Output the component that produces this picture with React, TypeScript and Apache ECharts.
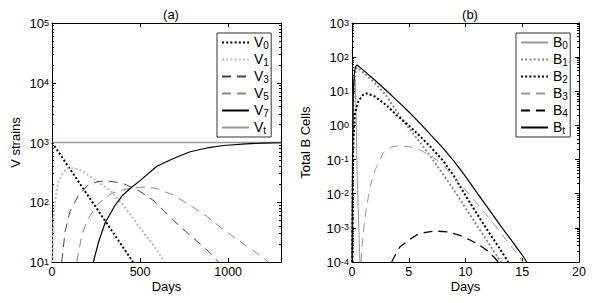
import React, { useEffect, useRef } from 'react';
import * as echarts from 'echarts';

// ---------- Panel (a): V strains vs Days ----------
const v0Days = [0, 230, 460];
const v0Vals = [1000, 100, 10];
const v1Days = [2, 8, 17, 36, 64, 93, 130, 170, 216, 270, 339, 405, 450, 500, 560, 600, 640];
const v1Vals = [10, 50, 100, 220, 320, 370, 370, 335, 270, 210, 150, 88, 60, 37, 22, 15, 10];
const v3Days = [55, 62, 74, 102, 150, 206, 260, 311, 396, 490, 580, 689, 784, 879, 945];
const v3Vals = [10, 15, 32, 70, 130, 195, 222, 228, 210, 158, 105, 50, 28, 16, 10];
const v5Days = [140, 150, 169, 206, 263, 339, 434, 528, 595, 689, 784, 879, 973, 1068, 1163, 1229];
const v5Vals = [10, 14, 28, 54, 95, 141, 170, 180, 170, 132, 89, 58, 35, 22, 14, 10];
const v7Days = [235, 263, 301, 358, 400, 443, 500, 595, 689, 784, 880, 973, 1100, 1200, 1300];
const v7Vals = [10, 21, 45, 89, 130, 170, 230, 400, 540, 700, 810, 890, 950, 975, 990];
const vtDays = [0, 1300];
const vtVals = [1000, 1000];

// ---------- Panel (b): Total B cells vs Days ----------
const b0Days = [0.01, 0.08, 0.15, 0.22, 0.3, 0.36, 0.41, 0.5, 0.6, 0.7];
const b0Vals = [1e-4, 3.2, 20, 28, 16, 2.5, 0.19, 0.0126, 0.001, 1e-4];
const b1Days = [0.03, 0.08, 0.15, 0.25, 0.35, 0.45, 1, 2, 3, 4, 5, 6, 7, 8, 9, 10, 11, 12, 13, 13.15];
const b1Vals = [1e-4, 0.1, 6.3, 25.1, 44.7, 50.1, 35.5, 17.8, 7.6, 2.4, 0.83, 0.32, 0.112, 0.038, 0.0126, 0.0038, 0.0012, 0.00037, 0.000117, 1e-4];
const b2Days = [0.03, 0.06, 0.12, 0.26, 0.56, 0.9, 1.29, 2, 3, 4, 5, 6, 7, 8, 9, 10, 11, 12, 13, 13.77];
const b2Vals = [1e-4, 0.01, 0.37, 2.3, 5.0, 7.6, 8.7, 7.1, 4.0, 1.9, 1.0, 0.48, 0.22, 0.095, 0.032, 0.0089, 0.0026, 0.00079, 0.00025, 1e-4];
const b3Days = [0.8, 0.9, 1.15, 1.59, 2.03, 2.76, 3.4, 4.08, 5, 6, 7, 8, 9, 10, 11, 12, 13, 14, 14.95, 15.05];
const b3Vals = [1e-4, 3.2e-4, 2.1e-3, 0.0162, 0.049, 0.158, 0.229, 0.257, 0.24, 0.19, 0.126, 0.071, 0.0295, 0.0126, 0.0052, 0.0021, 0.00079, 0.0003, 0.000112, 1e-4];
const b4Days = [3.5, 4, 4.23, 5, 5.7, 6.5, 7.3, 8.5, 9.5, 10.4, 11.2, 11.87, 12.5, 12.9];
const b4Vals = [1e-4, 2.1e-4, 2.8e-4, 4.4e-4, 6.2e-4, 7.4e-4, 8.1e-4, 7.6e-4, 6.0e-4, 4.4e-4, 3.2e-4, 2.2e-4, 1.4e-4, 1e-4];
const btDays = [0.01, 0.05, 0.1, 0.2, 0.3, 0.45, 1, 2, 3, 4, 5, 6, 7, 8, 9, 10, 11, 12, 13, 14, 15, 15.4];
const btVals = [1e-4, 0.1, 6.3, 31.6, 52.5, 58.9, 41.7, 21.4, 10.7, 5.25, 2.51, 1.15, 0.5, 0.22, 0.089, 0.032, 0.0107, 0.0037, 0.00126, 0.00045, 0.00016, 1e-4];

const panelTitles = ['(a)', '(b)'];
const xNames = ['Days', 'Days'];
const yNames = ['V strains', 'Total B Cells'];
const legendA = ['V0', 'V1', 'V3', 'V5', 'V7', 'Vt'];
const legendB = ['B0', 'B1', 'B2', 'B3', 'B4', 'Bt'];

const FONT = "'Liberation Sans', Arial, Helvetica, sans-serif";

const zip = (xs: number[], ys: number[]) => xs.map((x, i) => [x, ys[i]]);

function line(name: string, idx: number, xs: number[], ys: number[], color: string, width: number, type: any, z = 2) {
  return {
    type: 'line',
    name,
    xAxisIndex: idx,
    yAxisIndex: idx,
    data: zip(xs, ys),
    showSymbol: false,
    symbol: 'none',
    smooth: false,
    z,
    lineStyle: { color, width, type, cap: 'butt' },
    itemStyle: { color },
  };
}

const DOT = [2, 2.2];
const DASH = [9, 6];

const yLabel = {
  show: true,
  margin: 3,
  fontFamily: FONT,
  color: '#000',
  formatter: (v: number) => `{b|10}{s|${Math.round(Math.log10(v))}}`,
  rich: {
    b: { fontSize: 13, fontFamily: FONT, color: '#000', lineHeight: 14, verticalAlign: 'bottom', padding: [4, 0, 0, 0] },
    s: { fontSize: 9, fontFamily: FONT, color: '#000', lineHeight: 10, verticalAlign: 'top', padding: [2, 0, 0, 0] },
  },
};

function xAxes(idx: number, max: number, interval: number, name: string) {
  const base = {
    type: 'value',
    gridIndex: idx,
    min: 0,
    max,
    interval,
    splitLine: { show: false },
    axisLine: { show: true, onZero: false, lineStyle: { color: '#000', width: 1 } },
    axisTick: { show: true, inside: true, length: 4, lineStyle: { color: '#000' } },
  };
  return [
    {
      ...base,
      position: 'bottom',
      name,
      nameLocation: 'middle',
      nameGap: 18,
      nameMoveOverlap: false,
      nameTextStyle: { fontSize: 13, fontFamily: FONT, color: '#000', verticalAlign: 'top', lineHeight: 13 },
      axisLabel: {
        show: true, margin: 4, fontSize: 12.5, lineHeight: 12.5, fontFamily: FONT, color: '#000',
        showMaxLabel: max % interval === 0,
        formatter: (v: number) => String(v),
      },
    },
    { ...base, position: 'top', axisLabel: { show: false } },
  ];
}

function yAxes(idx: number, min: number, max: number, name: string, gap: number) {
  const base = {
    type: 'log',
    logBase: 10,
    gridIndex: idx,
    min,
    max,
    interval: 1,
    splitLine: { show: false },
    axisLine: { show: true, onZero: false, lineStyle: { color: '#000', width: 1 } },
    axisTick: { show: true, inside: true, length: 4, lineStyle: { color: '#000' } },
    minorTick: { show: true, splitNumber: 9, length: 2, lineStyle: { color: '#000' } },
    minorSplitLine: { show: false },
  };
  return [
    {
      ...base,
      position: 'left',
      name,
      nameLocation: 'middle',
      nameGap: gap,
      nameTextStyle: { fontSize: 13, fontFamily: FONT, color: '#000' },
      axisLabel: yLabel,
    },
    { ...base, position: 'right', axisLabel: { show: false } },
  ];
}

function legend(left: number, data: string[]) {
  return {
    orient: 'vertical',
    left,
    top: 33,
    data,
    itemWidth: 27,
    itemHeight: 14,
    itemGap: 2,
    padding: [2, 2, 2, 4],
    backgroundColor: '#fff',
    borderColor: '#333',
    borderWidth: 1,
    borderRadius: 0,
    selectedMode: false,
    itemStyle: { opacity: 0 },
    formatter: (n: string) => `{m|${n[0]}}{s|${n.slice(1)}}{h| }`,
    textStyle: {
      color: '#000',
      fontFamily: FONT,
      rich: {
        m: { fontSize: 14, fontFamily: FONT, color: '#000', lineHeight: 8, verticalAlign: 'top' },
        s: { fontSize: 10, fontFamily: FONT, color: '#000', lineHeight: 7, verticalAlign: 'bottom' },
        h: { fontSize: 1, fontFamily: FONT, color: '#000', lineHeight: 15, verticalAlign: 'middle' },
      },
    },
  };
}

export default function App() {
  const ref = useRef<HTMLDivElement>(null);
  useEffect(() => {
    if (!ref.current) return;
    const chart = echarts.init(ref.current, undefined, { renderer: 'svg' });
    const xa = xAxes(0, 1300, 500, xNames[0]);
    const xb = xAxes(1, 20, 5, xNames[1]);
    const ya = yAxes(0, 10, 1e5, yNames[0], 30);
    const yb = yAxes(1, 1e-4, 1e3, yNames[1], 40);
    chart.setOption({
      animation: false,
      backgroundColor: '#fff',
      title: [
        { text: panelTitles[0], left: 166, top: 3, textAlign: 'center', textStyle: { fontSize: 13, fontWeight: 'normal', fontFamily: FONT, color: '#000' } },
        { text: panelTitles[1], left: 465, top: 3, textAlign: 'center', textStyle: { fontSize: 13, fontWeight: 'normal', fontFamily: FONT, color: '#000' } },
      ],
      grid: [
        { left: 52, top: 23, width: 229, height: 239, containLabel: false },
        { left: 352, top: 23, width: 227, height: 239, containLabel: false },
      ],
      xAxis: [xa[0], xb[0], xa[1], xb[1]].map((a: any, i: number) => ({ ...a, gridIndex: i % 2 })),
      yAxis: [ya[0], yb[0], ya[1], yb[1]].map((a: any, i: number) => ({ ...a, gridIndex: i % 2 })),
      legend: [legend(217, legendA), legend(516, legendB)],
      series: [
        line('Vt', 0, vtDays, vtVals, '#999', 1.4, 'solid', 1),
        line('V0', 0, v0Days, v0Vals, '#000', 2, DOT),
        line('V1', 0, v1Days, v1Vals, '#bbb', 2, DOT),
        line('V3', 0, v3Days, v3Vals, '#444', 1, DASH),
        line('V5', 0, v5Days, v5Vals, '#888', 1, DASH),
        line('V7', 0, v7Days, v7Vals, '#000', 1.2, 'solid'),
        line('B0', 1, b0Days, b0Vals, '#999', 1, 'solid'),
        line('B1', 1, b1Days, b1Vals, '#888', 2, DOT),
        line('B2', 1, b2Days, b2Vals, '#000', 2, DOT),
        line('B3', 1, b3Days, b3Vals, '#999', 1, DASH),
        line('B4', 1, b4Days, b4Vals, '#000', 1.3, DASH),
        line('Bt', 1, btDays, btVals, '#000', 1.2, 'solid'),
      ],
    });
    return () => chart.dispose();
  }, []);
  return <div ref={ref} style={{ position: 'absolute', left: 0, top: 0, width: 609, height: 303, background: '#fff' }} />;
}
